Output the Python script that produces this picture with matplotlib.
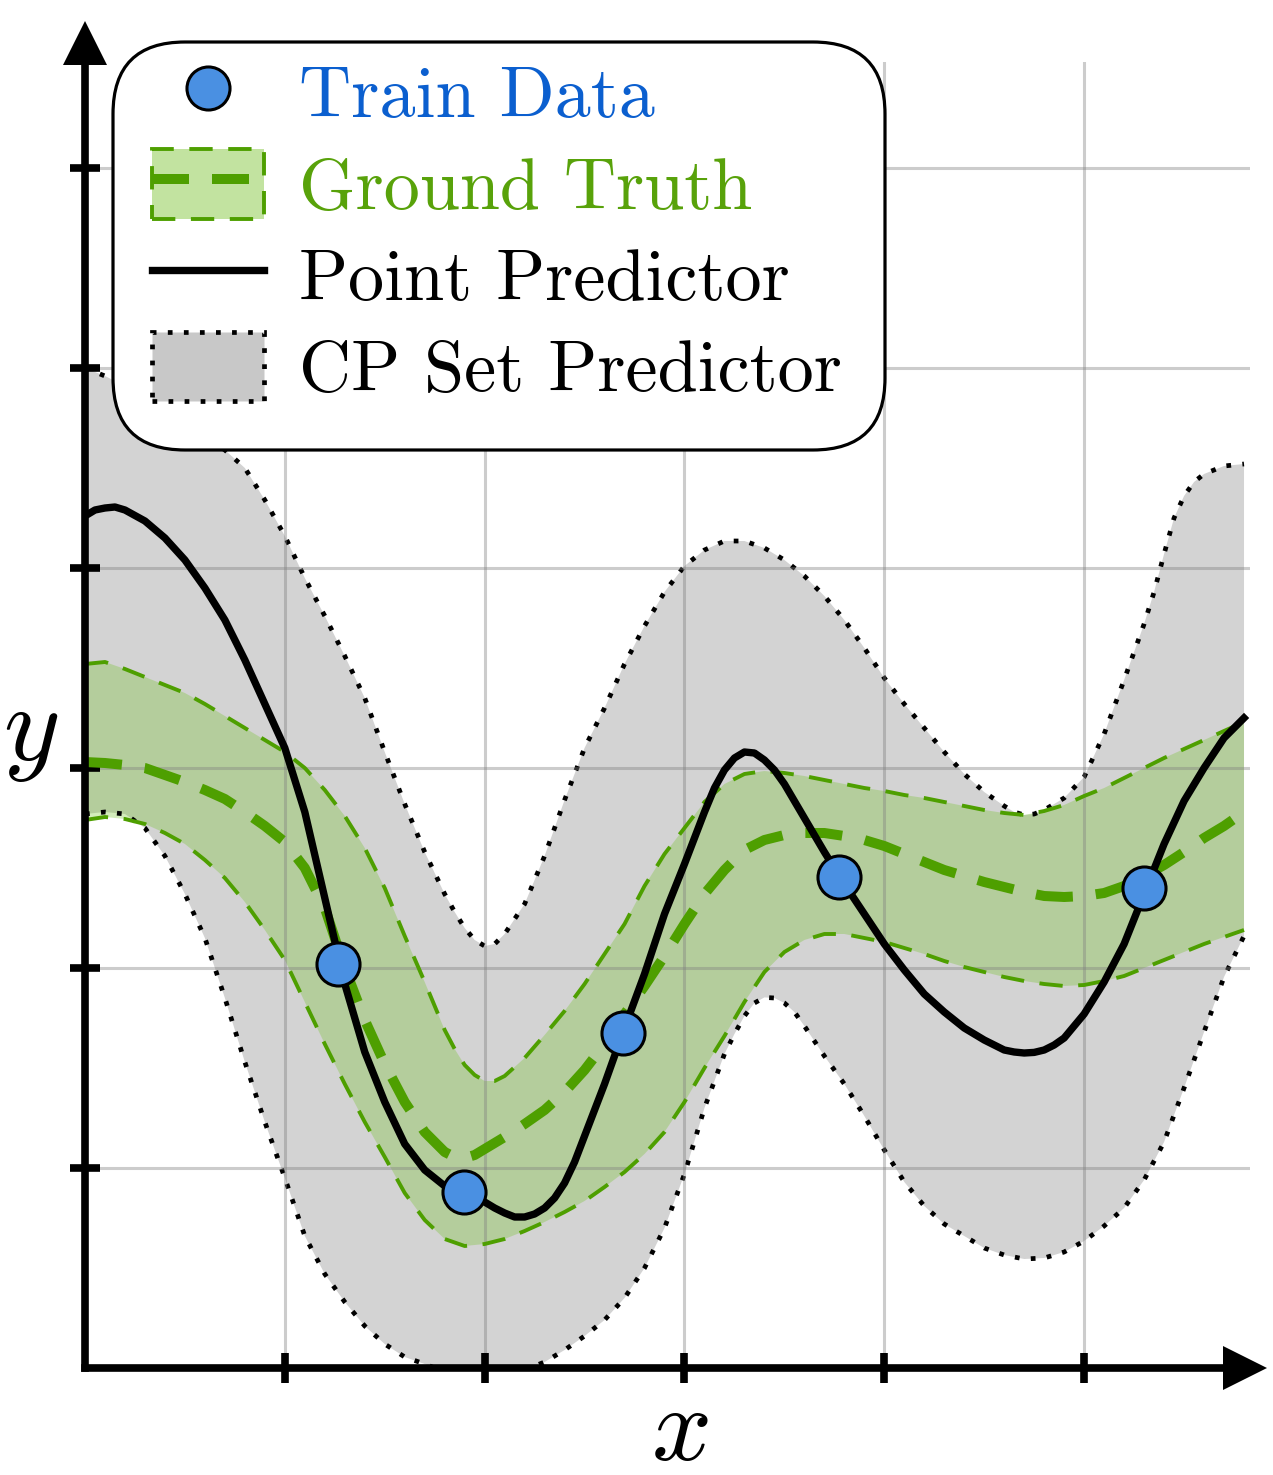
import numpy as np
import matplotlib

matplotlib.use('Agg')
import matplotlib.pyplot as plt
from matplotlib.lines import Line2D
from matplotlib.patches import Patch, FancyBboxPatch
from matplotlib.transforms import IdentityTransform

plt.rcParams['font.family'] = 'cmr10'
plt.rcParams['mathtext.fontset'] = 'cm'
plt.rcParams['axes.unicode_minus'] = False

# curves (x, y pairs, denser where they bend)
point_pred_x = [0.0, 0.05, 0.1, 0.15, 0.2, 0.3, 0.4, 0.5, 0.6, 0.7, 0.8, 0.9,
                1.0, 1.1, 1.2, 1.3, 1.4, 1.5, 1.6, 1.7, 1.8, 1.85, 1.9, 1.95,
                2.0, 2.05, 2.1, 2.15, 2.2, 2.25, 2.3, 2.35, 2.4, 2.45, 2.5, 2.6,
                2.7, 2.8, 2.9, 3.0, 3.1, 3.15, 3.2, 3.25, 3.3, 3.35, 3.4, 3.45,
                3.5, 3.6, 3.7, 3.8, 3.9, 4.0, 4.1, 4.2, 4.3, 4.4, 4.5, 4.55,
                4.6, 4.65, 4.7, 4.75, 4.8, 4.85, 4.9, 4.95, 5.0, 5.1, 5.2, 5.3,
                5.4, 5.5, 5.6, 5.7, 5.8]
point_pred_y = [4.26, 4.29, 4.30, 4.305, 4.29, 4.235, 4.15, 4.04, 3.90, 3.74, 3.54, 3.32,
                3.10, 2.78, 2.35, 1.92, 1.58, 1.33, 1.12, 0.99, 0.91, 0.885, 0.88, 0.86,
                0.83, 0.80, 0.775, 0.755, 0.755, 0.77, 0.80, 0.85, 0.925, 1.03, 1.16, 1.42,
                1.70, 1.97, 2.27, 2.52, 2.78, 2.90, 2.99, 3.05, 3.08, 3.075, 3.04, 2.99,
                2.92, 2.75, 2.58, 2.42, 2.27, 2.12, 1.99, 1.87, 1.78, 1.70, 1.64, 1.615,
                1.59, 1.58, 1.575, 1.578, 1.59, 1.615, 1.65, 1.71, 1.77, 1.93, 2.12, 2.37,
                2.62, 2.835, 3.00, 3.15, 3.25]

gt_mean_x = [0.0, 0.1, 0.2, 0.3, 0.4, 0.5, 0.6, 0.7, 0.8, 0.9,
             1.0, 1.1, 1.2, 1.3, 1.4, 1.5, 1.6, 1.7, 1.8, 1.85, 1.9, 1.95,
             2.0, 2.1, 2.2, 2.3, 2.4, 2.5, 2.6, 2.7, 2.8, 2.9,
             3.0, 3.1, 3.2, 3.3, 3.4, 3.5, 3.6, 3.7, 3.8, 3.9,
             4.0, 4.1, 4.2, 4.3, 4.4, 4.5, 4.6, 4.7, 4.8, 4.9,
             5.0, 5.1, 5.2, 5.3, 5.4, 5.5, 5.6, 5.7, 5.8]
gt_mean_y = [3.03, 3.025, 3.015, 3.0, 2.965, 2.93, 2.89, 2.845, 2.78, 2.71,
             2.63, 2.50, 2.30, 2.00, 1.74, 1.52, 1.33, 1.18, 1.08, 1.055, 1.05, 1.065,
             1.095, 1.155, 1.22, 1.29, 1.38, 1.49, 1.62, 1.77, 1.91, 2.06,
             2.22, 2.37, 2.49, 2.59, 2.64, 2.665, 2.675, 2.675, 2.66, 2.64,
             2.61, 2.57, 2.53, 2.49, 2.46, 2.43, 2.405, 2.38, 2.36, 2.355,
             2.36, 2.375, 2.41, 2.46, 2.515, 2.58, 2.65, 2.71, 2.78]

gt_upper_x = [0.0, 0.1, 0.2, 0.3, 0.4, 0.5, 0.6, 0.7, 0.8, 0.9,
              1.0, 1.1, 1.2, 1.3, 1.4, 1.5, 1.6, 1.7, 1.8, 1.85, 1.9, 1.95,
              2.0, 2.05, 2.1, 2.2, 2.3, 2.4, 2.5, 2.6, 2.7, 2.8, 2.9,
              3.0, 3.1, 3.2, 3.3, 3.4, 3.5, 3.6, 3.7, 3.8, 3.9,
              4.0, 4.1, 4.2, 4.3, 4.4, 4.5, 4.6, 4.7, 4.8, 4.9,
              5.0, 5.1, 5.2, 5.3, 5.4, 5.5, 5.6, 5.7, 5.8]
gt_upper_y = [3.52, 3.53, 3.495, 3.455, 3.415, 3.375, 3.32, 3.26, 3.20, 3.14,
              3.08, 3.00, 2.89, 2.76, 2.60, 2.40, 2.16, 1.93, 1.69, 1.595, 1.515, 1.465,
              1.435, 1.435, 1.46, 1.55, 1.665, 1.785, 1.92, 2.07, 2.22, 2.41, 2.57,
              2.70, 2.83, 2.92, 2.97, 2.985, 2.975, 2.96, 2.94, 2.92, 2.90,
              2.885, 2.865, 2.85, 2.83, 2.81, 2.79, 2.775, 2.765, 2.785, 2.815,
              2.86, 2.90, 2.95, 3.00, 3.05, 3.095, 3.14, 3.185, 3.23]

gt_lower_x = [0.0, 0.1, 0.2, 0.3, 0.4, 0.5, 0.6, 0.7, 0.8, 0.9,
              1.0, 1.1, 1.2, 1.3, 1.4, 1.5, 1.6, 1.7, 1.8, 1.9,
              2.0, 2.1, 2.2, 2.3, 2.4, 2.5, 2.6, 2.7, 2.8, 2.9,
              3.0, 3.1, 3.2, 3.3, 3.4, 3.5, 3.6, 3.7, 3.8, 3.9,
              4.0, 4.1, 4.2, 4.3, 4.4, 4.5, 4.6, 4.7, 4.8, 4.9,
              5.0, 5.1, 5.2, 5.3, 5.4, 5.5, 5.6, 5.7, 5.8]
gt_lower_y = [2.74, 2.755, 2.745, 2.72, 2.675, 2.62, 2.54, 2.45, 2.33, 2.19,
              2.04, 1.83, 1.62, 1.42, 1.23, 1.055, 0.875, 0.74, 0.645, 0.61,
              0.62, 0.645, 0.685, 0.73, 0.78, 0.835, 0.905, 0.98, 1.07, 1.18,
              1.33, 1.50, 1.66, 1.83, 1.98, 2.08, 2.14, 2.17, 2.17, 2.15,
              2.13, 2.10, 2.07, 2.035, 2.005, 1.98, 1.955, 1.935, 1.92, 1.91,
              1.915, 1.935, 1.96, 2.0, 2.04, 2.08, 2.12, 2.155, 2.19]

cp_upper_x = [0.0, 0.1, 0.2, 0.3, 0.4, 0.5, 0.6, 0.7, 0.8, 0.9,
              1.0, 1.1, 1.2, 1.3, 1.4, 1.5, 1.6, 1.7, 1.8, 1.85, 1.9, 1.95,
              2.0, 2.05, 2.1, 2.2, 2.3, 2.4, 2.5, 2.6, 2.7, 2.8, 2.9,
              3.0, 3.1, 3.2, 3.3, 3.4, 3.5, 3.6, 3.7, 3.8, 3.9,
              4.0, 4.1, 4.2, 4.3, 4.4, 4.5, 4.6, 4.65, 4.7, 4.75, 4.8, 4.9,
              5.0, 5.1, 5.2, 5.3, 5.35, 5.4, 5.45, 5.5, 5.55, 5.6, 5.7, 5.8]
cp_upper_y = [5.00, 4.96, 4.91, 4.86, 4.80, 4.73, 4.66, 4.59, 4.50, 4.34,
              4.16, 3.95, 3.76, 3.56, 3.35, 3.08, 2.82, 2.58, 2.37, 2.28, 2.20, 2.14,
              2.11, 2.12, 2.17, 2.32, 2.56, 2.84, 3.10, 3.30, 3.52, 3.71, 3.88,
              4.01, 4.09, 4.135, 4.135, 4.10, 4.04, 3.96, 3.86, 3.74, 3.60,
              3.45, 3.32, 3.20, 3.08, 2.97, 2.88, 2.81, 2.78, 2.765, 2.77, 2.79, 2.85,
              2.955, 3.17, 3.44, 3.72, 3.88, 4.07, 4.25, 4.36, 4.43, 4.47, 4.51, 4.52]

cp_lower_x = [0.0, 0.1, 0.2, 0.3, 0.4, 0.5, 0.6, 0.7, 0.8, 0.9,
              1.0, 1.1, 1.2, 1.3, 1.4, 1.5, 1.6, 1.7, 1.8, 1.9,
              2.0, 2.1, 2.2, 2.3, 2.4, 2.5, 2.6, 2.7, 2.8, 2.9,
              3.0, 3.1, 3.2, 3.25, 3.3, 3.35, 3.4, 3.45, 3.5, 3.55, 3.6, 3.7,
              3.8, 3.9, 4.0, 4.1, 4.2, 4.3, 4.4, 4.5, 4.6, 4.7, 4.8, 4.9,
              5.0, 5.1, 5.2, 5.3, 5.4, 5.5, 5.6, 5.7, 5.8]
cp_lower_y = [2.77, 2.78, 2.77, 2.70, 2.56, 2.37, 2.15, 1.85, 1.53, 1.23,
              0.95, 0.66, 0.47, 0.33, 0.21, 0.12, 0.055, 0.02, -0.02, -0.04,
              -0.04, -0.03, -0.01, 0.03, 0.09, 0.16, 0.24, 0.35, 0.50, 0.70,
              0.97, 1.30, 1.57, 1.67, 1.76, 1.825, 1.853, 1.85, 1.825, 1.78, 1.71, 1.56,
              1.42, 1.26, 1.09, 0.93, 0.81, 0.72, 0.66, 0.60, 0.565, 0.545, 0.55, 0.58,
              0.635, 0.71, 0.80, 0.94, 1.13, 1.40, 1.68, 1.955, 2.16]

train_x = [1.265, 1.895, 2.69, 3.775, 5.30]
train_y = [2.02, 0.88, 1.675, 2.455, 2.40]

labels = ['Train Data', 'Ground Truth', 'Point Predictor', 'CP Set Predictor']
label_colors = ['#0b5fcf', '#58a20a', 'black', 'black']

green = '#4e9f00'
blue_face = '#4a90e2'
dotted = (1, 2.4)

W, H = 1273, 1475
fig = plt.figure(figsize=(W / 100, H / 100), dpi=100)
ax = fig.add_axes([85 / W, (H - 1368) / H, 1165 / W, 1306 / H])

# CP set band
ax.fill(np.r_[cp_upper_x, cp_lower_x[::-1]], np.r_[cp_upper_y, cp_lower_y[::-1]],
        color='#d3d3d3', lw=0, zorder=1)
ax.plot(cp_upper_x, cp_upper_y, color='k', lw=3.4, dashes=dotted, zorder=1.2)
ax.plot(cp_lower_x, cp_lower_y, color='k', lw=3.4, dashes=dotted, zorder=1.2)

# ground truth band
ax.fill(np.r_[gt_upper_x, gt_lower_x[::-1]], np.r_[gt_upper_y, gt_lower_y[::-1]],
        color='#6fc21f', alpha=0.3, lw=0, zorder=1.1)
ax.plot(gt_upper_x, gt_upper_y, color=green, lw=2.8, dashes=(6, 4), zorder=2)
ax.plot(gt_lower_x, gt_lower_y, color=green, lw=2.8, dashes=(6, 4), zorder=2)
ax.plot(gt_mean_x, gt_mean_y, color=green, lw=7.2, dashes=(3.7, 2.3), zorder=2.1)

ax.plot(point_pred_x, point_pred_y, color='k', lw=5.3, solid_joinstyle='round', zorder=3)
ax.plot(train_x, train_y, 'o', ms=31, mfc=blue_face, mec='k', mew=2.2, zorder=4)

ax.set_xlim(0, 5.83)
ax.set_ylim(0, 6.53)
ax.set_xticks([1, 2, 3, 4, 5])
ax.set_yticks([1, 2, 3, 4, 5, 6])
ax.tick_params(direction='inout', length=21, width=5.5, labelbottom=False, labelleft=False)
ax.set_axisbelow('line')
ax.grid(True, color='gray', alpha=0.4, lw=2.2)

for side in ['top', 'right']:
    ax.spines[side].set_visible(False)
for side in ['bottom', 'left']:
    ax.spines[side].set_linewidth(5.5)
    ax.spines[side].set_zorder(5)

# arrow heads on the axes
ax.plot([0.9961], [0], marker='>', ms=32, color='k', mew=0,
        transform=ax.transAxes, clip_on=False, zorder=5)
ax.plot([0], [1.0149], marker='^', ms=32, color='k', mew=0,
        transform=ax.transAxes, clip_on=False, zorder=5)

fig.text(680 / W, 1 - 1434 / H, '$x$', fontsize=76, ha='center', va='center')
fig.text(31 / W, 1 - 735 / H, '$y$', fontsize=78, ha='center', va='center')

# rounded legend frame, drawn in pixels
frame = FancyBboxPatch((113, H - 450), 772, 408,
                       boxstyle='round,pad=0,rounding_size=72',
                       facecolor='white', edgecolor='k', lw=2.3,
                       transform=IdentityTransform(), zorder=2)
fig.add_artist(frame)

handles = [
    Line2D([], [], marker='o', ls='none', ms=31, mfc=blue_face, mec='k', mew=2.2),
    (Patch(facecolor='#c2e3a0', edgecolor=green, lw=2.8, linestyle=(0, (6, 4))),
     Line2D([], [], color=green, lw=7.2, dashes=(3.7, 2.3))),
    Line2D([], [], color='k', lw=5.3),
    Patch(facecolor='#c8c8c8', edgecolor='k', lw=3.4, linestyle=(0, dotted)),
]
leg = fig.legend(handles, labels, loc='upper left',
                 bbox_to_anchor=(152 / W, 1 - 58 / H), bbox_transform=fig.transFigure,
                 borderaxespad=0, fontsize=52, handlelength=1.55, handleheight=1.1,
                 handletextpad=0.48, borderpad=0, labelspacing=0.25, frameon=False)
leg.set_zorder(3)
for t, c in zip(leg.get_texts(), label_colors):
    t.set_color(c)

fig.savefig('out.png', dpi=100)
